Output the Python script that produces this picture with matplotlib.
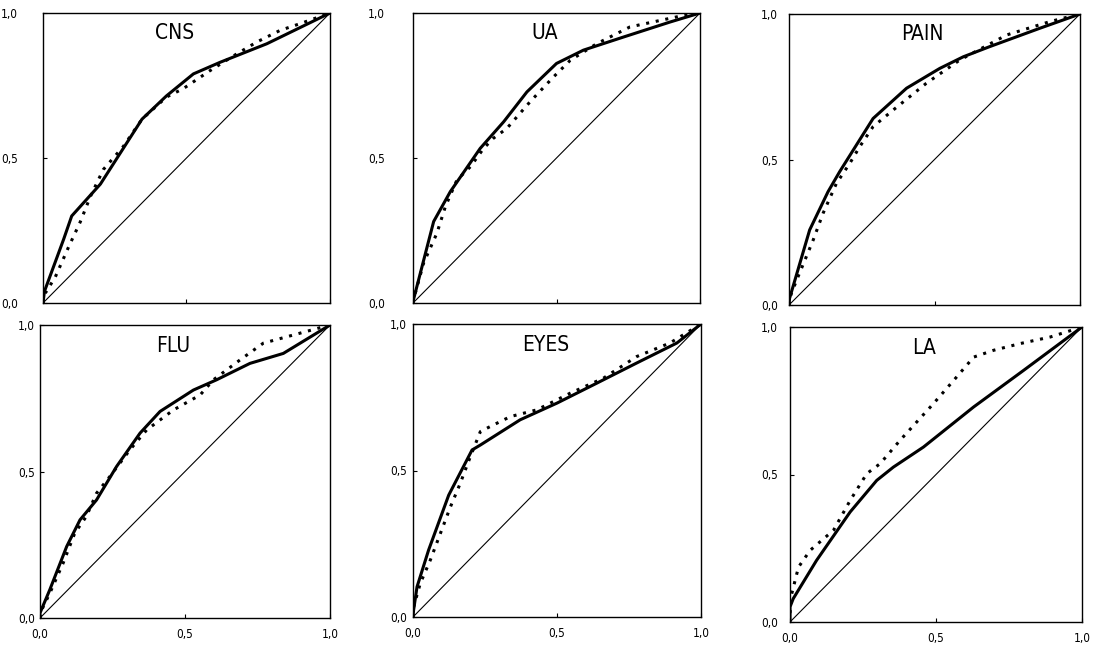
import matplotlib
matplotlib.use("Agg")
import matplotlib.pyplot as plt

# panel names
panels = ["CNS", "UA", "PAIN", "FLU", "EYES", "LA"]

# solid curves (x, y)
cns_solid_x = [0.0, 0.005, 0.072, 0.10, 0.20, 0.345, 0.43, 0.524, 0.617, 0.78, 1.0]
cns_solid_y = [0.0, 0.04, 0.22, 0.30, 0.41, 0.634, 0.714, 0.79, 0.83, 0.894, 1.0]
cns_dot_x = [0.0, 0.008, 0.043, 0.09, 0.13, 0.165, 0.21, 0.28, 0.345, 0.43, 0.49, 0.58, 0.66, 0.745, 0.826, 0.895, 1.0]
cns_dot_y = [0.0, 0.034, 0.09, 0.195, 0.28, 0.367, 0.46, 0.54, 0.634, 0.71, 0.74, 0.80, 0.85, 0.90, 0.94, 0.963, 1.0]

ua_solid_x = [0.0, 0.072, 0.13, 0.234, 0.316, 0.397, 0.50, 0.594, 0.733, 0.896, 1.0]
ua_solid_y = [0.005, 0.281, 0.384, 0.533, 0.625, 0.728, 0.826, 0.872, 0.917, 0.969, 1.0]
ua_dot_x = [0.0, 0.008, 0.037, 0.083, 0.113, 0.153, 0.20, 0.246, 0.28, 0.327, 0.408, 0.49, 0.548, 0.64, 0.756, 0.93, 1.0]
ua_dot_y = [0.0, 0.034, 0.138, 0.24, 0.333, 0.424, 0.47, 0.533, 0.568, 0.602, 0.694, 0.78, 0.837, 0.894, 0.952, 0.989, 1.0]

pain_solid_x = [0.0, 0.002, 0.071, 0.134, 0.174, 0.289, 0.404, 0.518, 0.599, 0.69, 0.862, 1.0]
pain_solid_y = [0.0, 0.023, 0.258, 0.389, 0.458, 0.641, 0.745, 0.813, 0.853, 0.888, 0.951, 1.0]
pain_dot_x = [0.0, 0.008, 0.031, 0.083, 0.117, 0.163, 0.209, 0.243, 0.289, 0.358, 0.472, 0.587, 0.748, 0.897, 1.0]
pain_dot_y = [0.0, 0.04, 0.097, 0.223, 0.315, 0.418, 0.487, 0.544, 0.613, 0.67, 0.762, 0.842, 0.928, 0.974, 1.0]

flu_solid_x = [0.0, 0.0, 0.034, 0.092, 0.138, 0.195, 0.264, 0.345, 0.414, 0.529, 0.609, 0.724, 0.839, 1.0]
flu_solid_y = [0.0, 0.017, 0.097, 0.244, 0.335, 0.403, 0.517, 0.631, 0.705, 0.778, 0.813, 0.869, 0.903, 1.0]
flu_dot_x = [0.0, 0.006, 0.034, 0.08, 0.12, 0.16, 0.195, 0.241, 0.31, 0.368, 0.46, 0.552, 0.598, 0.69, 0.77, 0.874, 1.0]
flu_dot_y = [0.0, 0.028, 0.085, 0.188, 0.29, 0.347, 0.426, 0.483, 0.574, 0.642, 0.71, 0.761, 0.813, 0.881, 0.938, 0.966, 1.0]

eyes_solid_x = [0.0, 0.002, 0.014, 0.054, 0.124, 0.205, 0.234, 0.372, 0.50, 0.638, 0.777, 0.916, 1.0]
eyes_solid_y = [0.0, 0.023, 0.103, 0.228, 0.416, 0.570, 0.587, 0.673, 0.73, 0.798, 0.867, 0.935, 1.0]
eyes_dot_x = [0.0, 0.002, 0.025, 0.06, 0.095, 0.13, 0.164, 0.199, 0.234, 0.268, 0.338, 0.43, 0.546, 0.661, 0.777, 0.892, 1.0]
eyes_dot_y = [0.0, 0.034, 0.114, 0.194, 0.285, 0.376, 0.456, 0.547, 0.633, 0.65, 0.684, 0.707, 0.764, 0.815, 0.889, 0.935, 1.0]

la_solid_x = [0.0, 0.0, 0.011, 0.091, 0.206, 0.297, 0.354, 0.457, 0.629, 0.80, 1.0]
la_solid_y = [0.0, 0.051, 0.079, 0.209, 0.373, 0.48, 0.525, 0.593, 0.729, 0.853, 1.0]
la_dot_x = [0.0, 0.006, 0.029, 0.069, 0.149, 0.206, 0.263, 0.309, 0.377, 0.491, 0.571, 0.629, 0.697, 0.789, 0.891, 1.0]
la_dot_y = [0.03, 0.096, 0.186, 0.243, 0.311, 0.412, 0.503, 0.537, 0.616, 0.74, 0.831, 0.898, 0.921, 0.944, 0.966, 1.0]

solid = [(cns_solid_x, cns_solid_y), (ua_solid_x, ua_solid_y), (pain_solid_x, pain_solid_y),
         (flu_solid_x, flu_solid_y), (eyes_solid_x, eyes_solid_y), (la_solid_x, la_solid_y)]
dotted = [(cns_dot_x, cns_dot_y), (ua_dot_x, ua_dot_y), (pain_dot_x, pain_dot_y),
          (flu_dot_x, flu_dot_y), (eyes_dot_x, eyes_dot_y), (la_dot_x, la_dot_y)]

tick_vals = [0.0, 0.5, 1.0]
tick_labels = ["0,0", "0,5", "1,0"]

W, H = 1093, 649
# axes boxes in pixels: left, right, top, bottom
boxes = [(43, 330, 13, 303), (413, 700, 13, 303), (789, 1080, 14, 305),
         (40, 330, 325, 618), (413, 701, 324, 617), (790, 1082, 327, 622)]
ypads = [18, 20, 8, 3.6, 4.3, 8.6]  # points

fig = plt.figure(figsize=(W / 100, H / 100), dpi=100)

for i, name in enumerate(panels):
    l, r, t, b = boxes[i]
    ax = fig.add_axes([l / W, 1 - b / H, (r - l) / W, (b - t) / H])
    ax.plot([0, 1], [0, 1], color="black", lw=0.8)
    sx, sy = solid[i]
    ax.plot(sx, sy, color="black", lw=2.2, solid_joinstyle="round")
    dx, dy = dotted[i]
    ax.plot(dx, dy, color="black", lw=2.2, linestyle=(0, (1.0, 2.2)))
    ax.set_xlim(0, 1)
    ax.set_ylim(0, 1)
    ax.set_xticks(tick_vals)
    ax.set_yticks(tick_vals)
    ax.set_yticklabels(tick_labels, fontsize=8.5, fontstretch="condensed")
    if i >= 3:
        ax.set_xticklabels(tick_labels, fontsize=8.5, fontstretch="condensed")
    else:
        ax.set_xticklabels([])
    ax.tick_params(axis="both", direction="in", length=3, width=0.8)
    ax.tick_params(axis="y", pad=ypads[i])
    ax.tick_params(axis="x", pad=7)
    for s in ax.spines.values():
        s.set_linewidth(1.0)
    ax.text(0.46, 0.93, name, transform=ax.transAxes, ha="center", va="center",
            fontsize=15, fontstretch="condensed")

fig.savefig("out.png", dpi=100)
